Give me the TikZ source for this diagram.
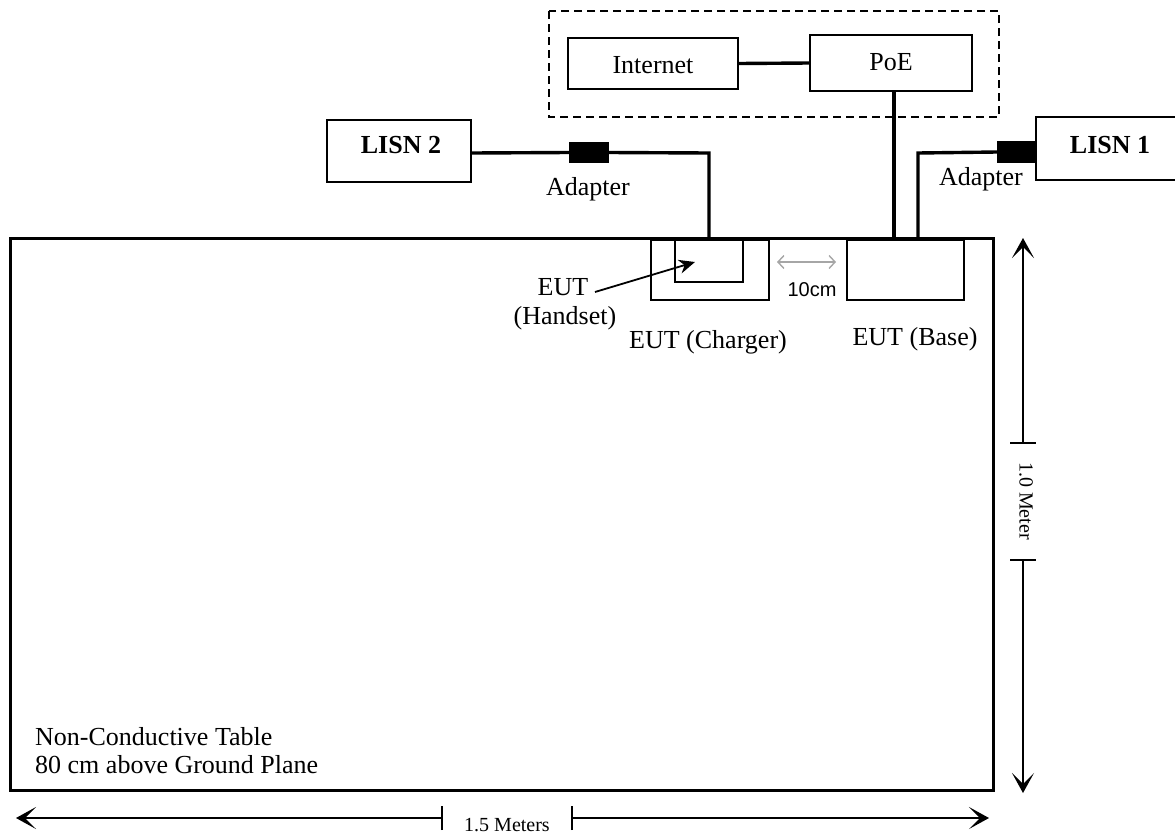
\documentclass[tikz,border=0pt]{standalone}
\usepackage{fontspec}
\setmainfont{Liberation Serif}
\newfontfamily\arialfont{Liberation Sans}
\usetikzlibrary{arrows.meta}
\begin{document}
\begin{tikzpicture}[x=1pt,y=-1pt,
  box/.style={draw,line width=1.5pt,inner sep=0pt},
  cable/.style={line width=3.4pt},
  lbl/.style={font=\fontsize{26}{29}\selectfont,inner sep=0pt,anchor=base},
  blbl/.style={font=\fontsize{26}{29}\selectfont\bfseries,inner sep=0pt,anchor=base},
  small/.style={font=\fontsize{20}{22}\selectfont,inner sep=0pt},
  dimtip/.style={Stealth[length=20pt,width=22pt,inset=11pt]},
  dim/.style={line width=1.3pt,{Stealth[length=20pt,width=22pt,inset=11pt]}-{Stealth[length=20pt,width=22pt,inset=11pt]}},
  adapt/.style={fill=black,draw=none,inner sep=0pt}]
\useasboundingbox (0,0) rectangle (1175,838);
% dashed enclosure
\draw[line width=1.4pt,dash pattern=on 8pt off 5pt] (549,11) rectangle (999,117);
% Internet and PoE
\node[box,minimum width=170pt,minimum height=51pt] (inet) at (653,63.5) {};
\node[lbl] (inett) at (653,73) {Internet};
\node[box,minimum width=162pt,minimum height=56pt] (poe) at (891,63) {};
\node[lbl] (poet) at (891,70) {PoE};
\draw[cable] (inet.east) -- (poe.west);
% table
\node[draw,line width=3pt,minimum width=983pt,minimum height=552pt,inner sep=0pt] (table) at (501.5,514) {};
% EUT boxes
\node[box,minimum width=118pt,minimum height=60pt] (charger) at (710,270) {};
\node[box,minimum width=68pt,minimum height=42pt] (handset) at (709,261) {};
\node[box,minimum width=117pt,minimum height=60pt] (base) at (905.5,270) {};
% LISN boxes
\node[box,minimum width=144pt,minimum height=62pt] (lisn2) at (399,151) {};
\node[blbl] (lisn2t) at (401,153) {LISN 2};
\coordinate (l1a) at (1180,117);
\coordinate (l1b) at (1036,117);
\coordinate (l1c) at (1036,180);
\coordinate (l1d) at (1180,180);
\draw[line width=1.5pt] (l1a) -- (l1b) -- (l1c) -- (l1d);
\node[blbl] (lisn1t) at (1110,153) {LISN 1};
% adapters
\node[adapt,minimum width=40pt,minimum height=21pt] (ad2) at (589,152.5) {};
\node[adapt,minimum width=40pt,minimum height=22pt] (ad1) at (1017,152) {};
\node[lbl] (ad2t) at (588,195) {Adapter};
\node[lbl] (ad1t) at (981,185) {Adapter};
% cables
\coordinate (c2) at (709,153);
\coordinate (c2b) at (709,240);
\draw[cable] (lisn2.east |- c2) -- (ad2.west);
\draw[cable] (ad2.east) -- (c2) -- (c2b);
\coordinate (c1) at (918,153);
\coordinate (c1b) at (918,240);
\draw[cable] (ad1.west) -- (c1) -- (c1b);
\coordinate (pb) at (894,240);
\draw[cable] (poe.south -| pb) -- (pb);
% 10cm arrow
\coordinate (g1) at (777,262);
\coordinate (g2) at (836,262);
\draw[gray!70,line width=1.4pt,{Straight Barb[length=6pt,width=13pt]}-{Straight Barb[length=6pt,width=13pt]}] (g1) -- (g2);
\node[font=\arialfont\fontsize{20}{22}\selectfont,inner sep=0pt,anchor=base] (tencm) at (812,296) {10cm};
% labels
\node[lbl] (chargert) at (708,348) {EUT (Charger)};
\node[lbl] (baset) at (915,345) {EUT (Base)};
\node[lbl] (handt1) at (563,295) {EUT};
\node[lbl] (handt2) at (565,324) {(Handset)};
\coordinate (hs0) at (595,292);
\coordinate (hs1) at (695,262);
\draw[line width=1.8pt,-{Stealth[length=16pt,width=14pt]}] (hs0) -- (hs1);
% table text
\node[lbl,anchor=base west] (tablet1) at (35,745) {Non-Conductive Table};
\node[lbl,anchor=base west] (tablet2) at (35,773) {80 cm above Ground Plane};
% vertical dimension
\coordinate (v1) at (1023,238);
\coordinate (v2) at (1023,793);
\coordinate (vt1) at (1023,443);
\coordinate (vt2) at (1023,560);
\draw[line width=1.3pt,-{Stealth[length=20pt,width=22pt,inset=11pt]}] (vt1) -- (v1);
\draw[line width=1.3pt,-{Stealth[length=20pt,width=22pt,inset=11pt]}] (vt2) -- (v2);
\draw[line width=1.3pt] ([xshift=-13pt]vt1) -- ([xshift=13pt]vt1);
\draw[line width=1.3pt] ([xshift=-13pt]vt2) -- ([xshift=13pt]vt2);
\node[small,rotate=-90] (vtext) at (1026,501) {1.0 Meter};
% horizontal dimension
\coordinate (h1) at (16,818);
\coordinate (h2) at (989,818);
\coordinate (ht1) at (442,818);
\coordinate (ht2) at (572,818);
\draw[line width=1.3pt,-{Stealth[length=20pt,width=22pt,inset=11pt]}] (ht1) -- (h1);
\draw[line width=1.3pt,-{Stealth[length=20pt,width=22pt,inset=11pt]}] (ht2) -- (h2);
\draw[line width=1.3pt] ([yshift=-12pt]ht1) -- ([yshift=12pt]ht1);
\draw[line width=1.3pt] ([yshift=-12pt]ht2) -- ([yshift=12pt]ht2);
\node[small] (htext) at (507,825) {1.5 Meters};
\end{tikzpicture}
\end{document}
